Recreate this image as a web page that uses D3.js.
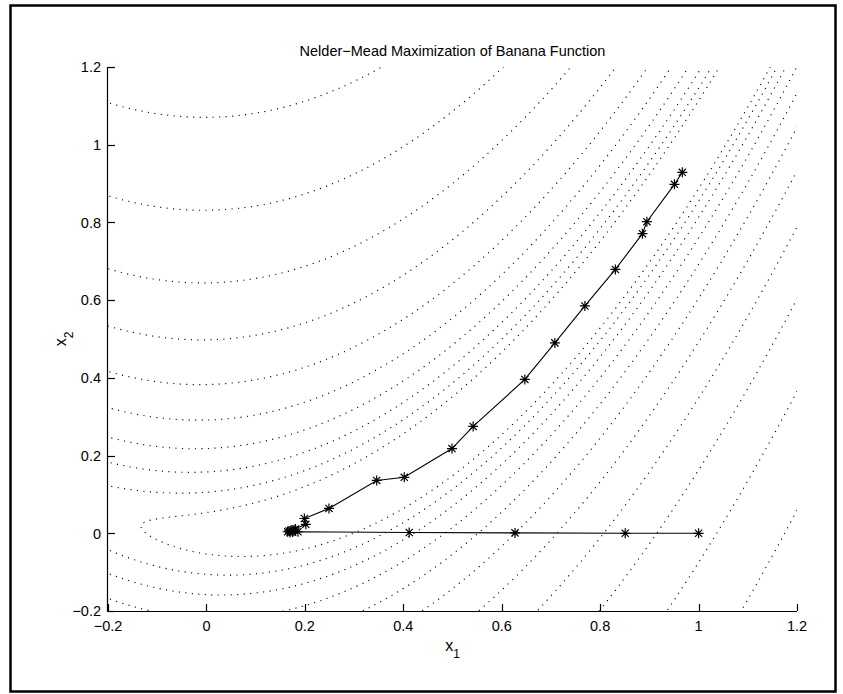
<!DOCTYPE html>
<html>
<head>
<meta charset="utf-8">
<script src="https://cdn.jsdelivr.net/npm/d3@7"></script>
<style>
body { margin: 0; background: #fff; }
text { font-family: "Liberation Sans", Arial, Helvetica, sans-serif; fill: #000; }
</style>
</head>
<body>
<div id="chart"></div>
<script>
// Nelder-Mead iterates
var pathX1 = [1.000, 0.851, 0.627, 0.412, 0.186, 0.170, 0.178, 0.165, 0.181, 0.168, 0.175, 0.172, 0.202, 0.199, 0.249, 0.346, 0.402, 0.499, 0.542, 0.647, 0.708, 0.769, 0.831, 0.886, 0.895, 0.951, 0.967];
var pathX2 = [0.000, 0.000, 0.001, 0.002, 0.004, 0.002, 0.009, 0.004, 0.011, 0.006, 0.003, 0.008, 0.023, 0.038, 0.064, 0.136, 0.144, 0.218, 0.275, 0.396, 0.490, 0.585, 0.679, 0.771, 0.802, 0.898, 0.929];

// contour levels of log(banana)
var contourLevels = [0.25, 0.75, 1.25, 1.75, 2.25, 2.75, 3.25, 3.75, 4.25, 4.75, 5.25];

var xTicks = [-0.2, 0, 0.2, 0.4, 0.6, 0.8, 1, 1.2];
var yTicks = [-0.2, 0, 0.2, 0.4, 0.6, 0.8, 1, 1.2];
var xTickLabels = ["\u22120.2", "0", "0.2", "0.4", "0.6", "0.8", "1", "1.2"];
var yTickLabels = ["\u22120.2", "0", "0.2", "0.4", "0.6", "0.8", "1", "1.2"];

var titleText = "Nelder\u2212Mead Maximization of Banana Function";

var W = 843, H = 694;
var pLeft = 108, pRight = 797, pTop = 67, pBottom = 611;

var svg = d3.select("#chart").append("svg")
    .attr("width", W)
    .attr("height", H);

// figure frame
svg.append("rect")
    .attr("x", 10.5).attr("y", 5.5)
    .attr("width", 825).attr("height", 686)
    .attr("fill", "none")
    .attr("stroke", "#000")
    .attr("stroke-width", 2.5);

var x = d3.scaleLinear().domain([-0.2, 1.2]).range([pLeft, pRight]);
var y = d3.scaleLinear().domain([-0.2, 1.2]).range([pBottom, pTop]);

svg.append("clipPath").attr("id", "plotclip")
    .append("rect")
    .attr("x", pLeft).attr("y", pTop)
    .attr("width", pRight - pLeft).attr("height", pBottom - pTop);

// banana (Rosenbrock) function on a grid a bit larger than the axes
var step = 0.004, g0 = -0.26, n = 381;
var vals = new Array(n * n);
for (var j = 0; j < n; j++) {
    for (var i = 0; i < n; i++) {
        var a = g0 + i * step, b = g0 + j * step;
        var f = 100 * Math.pow(b - a * a, 2) + Math.pow(1 - a, 2);
        vals[j * n + i] = Math.log(f);
    }
}
var contours = d3.contours().size([n, n]).thresholds(contourLevels)(vals);

var proj = d3.geoTransform({
    point: function (cx, cy) {
        this.stream.point(x(g0 + (cx - 0.5) * step), y(g0 + (cy - 0.5) * step));
    }
});
var cpath = d3.geoPath(proj);

svg.append("g")
    .attr("clip-path", "url(#plotclip)")
    .selectAll("path")
    .data(contours)
    .enter().append("path")
    .attr("d", cpath)
    .attr("fill", "none")
    .attr("stroke", "#000")
    .attr("stroke-width", 1.15)
    .attr("stroke-dasharray", "1.1,5.4");

// axes (MATLAB style, ticks inside)
var tickLen = 7;
var ax = svg.append("g").attr("stroke", "#000").attr("stroke-width", 1.2);
ax.append("line").attr("x1", pLeft).attr("x2", pRight).attr("y1", pBottom + 0.5).attr("y2", pBottom + 0.5);
ax.append("line").attr("x1", pLeft - 0.5).attr("x2", pLeft - 0.5).attr("y1", pTop).attr("y2", pBottom + 1);

ax.selectAll(".xt").data(xTicks).enter().append("line")
    .attr("x1", function (d) { return Math.round(x(d)) + 0.5; })
    .attr("x2", function (d) { return Math.round(x(d)) + 0.5; })
    .attr("y1", pBottom).attr("y2", pBottom - tickLen);
ax.selectAll(".yt").data(yTicks).enter().append("line")
    .attr("y1", function (d) { return Math.round(y(d)) + 0.5; })
    .attr("y2", function (d) { return Math.round(y(d)) + 0.5; })
    .attr("x1", pLeft).attr("x2", pLeft + tickLen);

svg.selectAll(".xl").data(xTicks).enter().append("text")
    .attr("x", function (d) { return x(d); })
    .attr("y", pBottom + 20)
    .attr("text-anchor", "middle")
    .attr("font-size", 14.5)
    .text(function (d, i) { return xTickLabels[i]; });

svg.selectAll(".yl").data(yTicks).enter().append("text")
    .attr("x", pLeft - 7)
    .attr("y", function (d) { return y(d); })
    .attr("dy", "0.36em")
    .attr("text-anchor", "end")
    .attr("font-size", 14.5)
    .text(function (d, i) { return yTickLabels[i]; });

// title
svg.append("text")
    .attr("x", (pLeft + pRight) / 2)
    .attr("y", 56)
    .attr("text-anchor", "middle")
    .attr("font-size", 14.5)
    .text(titleText);

// axis labels
var xl = svg.append("text")
    .attr("x", (pLeft + pRight) / 2)
    .attr("y", 651)
    .attr("text-anchor", "middle")
    .attr("font-size", 16);
xl.append("tspan").text("x");
xl.append("tspan").attr("font-size", 12).attr("dy", 7).text("1");

var yl = svg.append("text")
    .attr("transform", "translate(66," + ((pTop + pBottom) / 2) + ") rotate(-90)")
    .attr("text-anchor", "middle")
    .attr("font-size", 16);
yl.append("tspan").text("x");
yl.append("tspan").attr("font-size", 12).attr("dy", 7).text("2");

// search path
var pts = pathX1.map(function (d, i) { return [d, pathX2[i]]; });
svg.append("path")
    .datum(pts)
    .attr("d", d3.line().x(function (d) { return x(d[0]); }).y(function (d) { return y(d[1]); }))
    .attr("fill", "none")
    .attr("stroke", "#000")
    .attr("stroke-width", 1.1);

// asterisk markers
var r = 5, rd = r * 0.72;
var star = "M" + (-r) + ",0H" + r + "M0," + (-r) + "V" + r +
    "M" + (-rd) + "," + (-rd) + "L" + rd + "," + rd +
    "M" + (-rd) + "," + rd + "L" + rd + "," + (-rd);
svg.selectAll(".mk").data(pts).enter().append("path")
    .attr("d", star)
    .attr("transform", function (d) { return "translate(" + x(d[0]) + "," + y(d[1]) + ")"; })
    .attr("fill", "none")
    .attr("stroke", "#000")
    .attr("stroke-width", 1.2);
</script>
</body>
</html>
